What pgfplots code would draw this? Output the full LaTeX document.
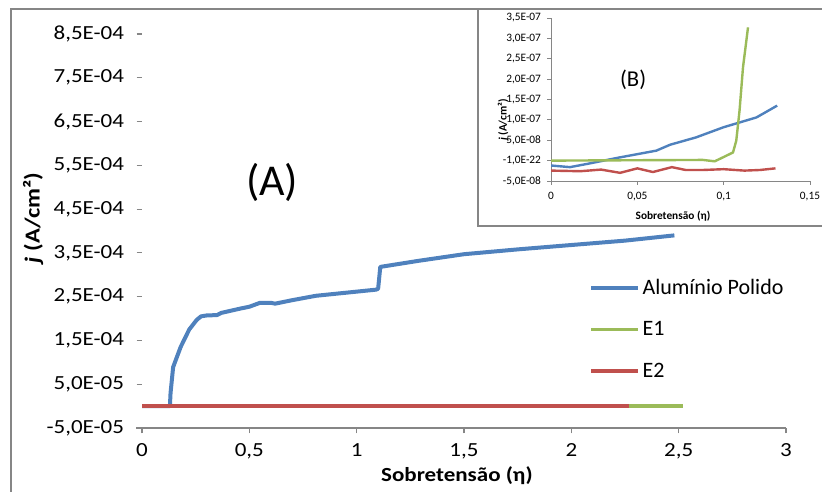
\documentclass[border=0pt]{standalone}
\usepackage{pgfplots}
\pgfplotsset{compat=1.18}
\usepackage{fontspec}
\setmainfont{Carlito}
\newfontfamily\widefont{Carlito}[FakeStretch=1.15]
\definecolor{xlblue}{HTML}{4F81BD}
\definecolor{xlred}{HTML}{C0504D}
\definecolor{xlgreen}{HTML}{9BBB59}
\definecolor{xlgray}{HTML}{868686}
\begin{document}
\begin{tikzpicture}
\useasboundingbox (0,0) rectangle (616.5pt,369pt);
% outer chart frame (cropped on right and bottom)
\draw[xlgray, line width=1.5pt] (8.25pt,0pt) -- (8.25pt,362.25pt) -- (616.5pt,362.25pt);

% ---- main chart (A)
\begin{axis}[
  at={(106.5pt,48pt)}, anchor=south west,
  scale only axis, width=483pt, height=295.5pt,
  xmin=0, xmax=3, ymin=-5e-5, ymax=8.5e-4,
  axis lines*=left,
  y axis line style={draw=none},
  x axis line style={xlgray, line width=0.8pt, shorten <=-4.5pt},
  tick align=outside, major tick length=4pt,
  every tick/.style={xlgray, line width=0.8pt},
  scaled ticks=false,
  xtick={0,0.5,1,1.5,2,2.5,3},
  xticklabels={0,{0,5},1,{1,5},2,{2,5},3},
  ytick={-5e-5,5e-5,1.5e-4,2.5e-4,3.5e-4,4.5e-4,5.5e-4,6.5e-4,7.5e-4,8.5e-4},
  yticklabels={{-5,0E-05},{5,0E-05},{1,5E-04},{2,5E-04},{3,5E-04},{4,5E-04},{5,5E-04},{6,5E-04},{7,5E-04},{8,5E-04}},
  tick label style={font=\widefont\fontsize{15}{18}\selectfont, black},
  xticklabel style={yshift=-4pt},
  yticklabel style={xshift=-6pt},
  xlabel={\textbf{Sobretensão (η)}},
  xlabel style={font=\widefont\fontsize{15}{18}\selectfont, at={(axis description cs:0.489,-0.122)}, anchor=center},
  ylabel={\textbf{\textit{j} (A/cm²)}},
  ylabel style={font=\widefont\fontsize{16}{18}\selectfont, at={(axis description cs:-0.169,0.533)}, anchor=center},
  legend style={draw=none, fill=none, at={(0.694,0.251)}, anchor=west, inner sep=0pt,
    font=\fontsize{16.5}{18}\selectfont, row sep=15pt, cells={anchor=west}},
  legend image code/.code={\draw[#1] (0pt,0pt) -- (35pt,0pt);},
]
\addplot[xlblue, line width=3pt, line join=round] coordinates {
  (0,0) (0.13,0) (0.133,3e-5) (0.145,8.9e-5) (0.18,1.35e-4) (0.22,1.75e-4)
  (0.255,1.97e-4) (0.275,2.05e-4) (0.3,2.07e-4) (0.35,2.08e-4) (0.37,2.13e-4)
  (0.46,2.23e-4) (0.5,2.27e-4) (0.55,2.36e-4) (0.6,2.36e-4) (0.62,2.34e-4)
  (0.7,2.42e-4) (0.81,2.52e-4) (0.95,2.59e-4) (1.09,2.66e-4) (1.1,2.68e-4)
  (1.11,3.18e-4) (1.29,3.32e-4) (1.5,3.47e-4) (1.75,3.58e-4) (2.0,3.68e-4)
  (2.25,3.78e-4) (2.48,3.9e-4)};
\addlegendentry{Alumínio Polido}
\addplot[xlgreen, line width=2.5pt] coordinates {(0,0) (1.0,0) (2.0,0) (2.52,0)};
\addlegendentry{E1}
\addplot[xlred, line width=2.5pt] coordinates {(0,0) (1.0,0) (2.0,0) (2.27,0)};
\addlegendentry{E2}
\node[font=\fontsize{33}{36}\selectfont] at (axis description cs:0.202,0.622) {(A)};
\end{axis}

% ---- inset frame (B)
\fill[white] (358.5pt,199.5pt) rectangle (616.5pt,362.25pt);
\draw[xlgray, line width=1.2pt] (358.5pt,362.25pt) -- (358.5pt,199.5pt) -- (616.5pt,199.5pt);
\draw[xlgray, line width=1.5pt] (358.5pt,362.25pt) -- (616.5pt,362.25pt);

\begin{axis}[
  at={(413.25pt,233.25pt)}, anchor=south west,
  scale only axis, width=194.25pt, height=122.25pt,
  xmin=0, xmax=0.15, ymin=-5e-8, ymax=3.5e-7,
  axis lines*=left,
  axis line style={xlgray, line width=0.6pt},
  tick align=outside, major tick length=3pt,
  every tick/.style={xlgray, line width=0.6pt},
  scaled ticks=false,
  xtick={0,0.05,0.1,0.15},
  xticklabels={0,{0,05},{0,1},{0,15}},
  ytick={-5e-8,0,5e-8,1e-7,1.5e-7,2e-7,2.5e-7,3e-7,3.5e-7},
  yticklabels={{-5,0E-08},{-1,0E-22},{5,0E-08},{1,0E-07},{1,5E-07},{2,0E-07},{2,5E-07},{3,0E-07},{3,5E-07}},
  tick label style={font=\fontsize{8.5}{9}\selectfont, black},
  xticklabel style={yshift=-2pt},
  yticklabel style={xshift=-1pt},
  xlabel={Sobretensão (η)},
  xlabel style={font=\fontsize{8.5}{10}\selectfont\bfseries, at={(axis description cs:0.471,-0.215)}, anchor=center},
  ylabel={\textit{j} (A/cm²)},
  ylabel style={font=\fontsize{8.5}{10}\selectfont\bfseries, at={(axis description cs:-0.185,0.374)}, anchor=center},
]
\addplot[xlblue, line width=1.8pt, line join=round] coordinates {
  (0,-1.2e-8) (0.011,-1.6e-8) (0.021,-0.8e-8) (0.040,0.8e-8) (0.061,2.45e-8)
  (0.069,3.9e-8) (0.084,5.7e-8) (0.1,8.2e-8) (0.119,10.6e-8) (0.131,13.5e-8)};
\addplot[xlgreen, line width=1.8pt, line join=round] coordinates {
  (0,0) (0.088,0.17e-8) (0.0948,-0.17e-8) (0.0996,0.8e-8) (0.1054,2.0e-8)
  (0.1073,4.9e-8) (0.1092,12.3e-8) (0.1112,22.9e-8) (0.1141,32.7e-8)};
\addplot[xlred, line width=1.8pt, line join=round] coordinates {
  (0,-2.45e-8) (0.017,-2.6e-8) (0.029,-2.2e-8) (0.040,-3.0e-8) (0.050,-1.9e-8)
  (0.059,-2.8e-8) (0.070,-1.6e-8) (0.078,-2.3e-8) (0.088,-2.3e-8) (0.1,-2.1e-8)
  (0.112,-2.45e-8) (0.121,-2.3e-8) (0.130,-1.9e-8)};
\node[font=\fontsize{17}{20}\selectfont] at (axis description cs:0.317,0.62) {(B)};
\end{axis}
\end{tikzpicture}
\end{document}
